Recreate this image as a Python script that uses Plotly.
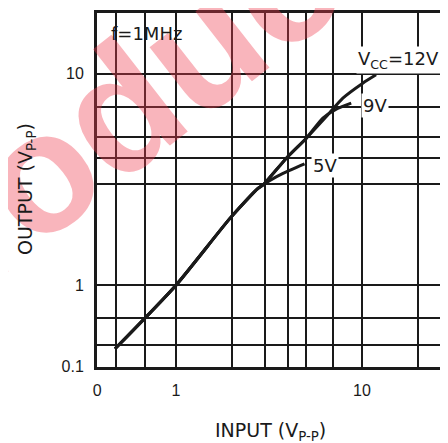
import plotly.graph_objects as go
import math

# ---- data ----
common_x = [0.47, 1.0, 1.95, 2.76]
common_y = [0.5, 1.0, 2.07, 2.87]

v12_x = [2.94, 3.92, 5.02, 6.43, 7.89, 10.1, 11.9]
v12_y = [2.98, 3.99, 4.96, 6.28, 7.67, 9.03, 9.89]

v9_x = [2.94, 3.92, 5.02, 6.16, 7.27, 8.75]
v9_y = [2.98, 3.99, 4.96, 6.17, 6.8, 7.26]

v5_x = [3.2, 3.76, 4.91]
v5_y = [3.13, 3.38, 3.75]

x_grid = [0.377, 0.476, 0.68, 1, 2, 3, 4, 5, 7, 10, 20]
x_text = ["0", "", "", "1", "", "", "", "", "", "10", ""]
y_grid = [0.411, 0.52, 0.7, 1, 3, 4, 5, 7, 10]
y_text = ["0.1", "", "", "1", "", "", "", "", "10"]

# page is rendered with the default 8px body margin
OFF = 8
W, H = 448 - OFF, 443 - OFF
L, R, T, B = 97, 448, 13, 367          # plot area in page pixels
xr = [math.log10(0.376), math.log10(29.0)]
yr = [math.log10(0.41), math.log10(19.4)]

FONT = "Liberation Sans, Arial, sans-serif"
WIDE = "DejaVu Sans, sans-serif"
INK = "#1a1a1a"

fig = go.Figure()
line = dict(color=INK, width=3)
fig.add_trace(go.Scatter(x=common_x + v12_x, y=common_y + v12_y, mode="lines",
                         line=line, line_shape="spline", line_smoothing=0.6,
                         name="12V", showlegend=False))
fig.add_trace(go.Scatter(x=common_x + v9_x, y=common_y + v9_y, mode="lines",
                         line=line, line_shape="spline", line_smoothing=0.6,
                         name="9V", showlegend=False))
fig.add_trace(go.Scatter(x=common_x + v5_x, y=common_y + v5_y, mode="lines",
                         line=line, line_shape="spline", line_smoothing=0.6,
                         name="5V", showlegend=False))

def px(xp):
    return (xp - L) / (R - L)

def py(yp):
    return (B - yp) / (B - T)

ann = []
# watermark of the scanned source
ann.append(dict(text="<b>Produc</b>", x=px(86), y=py(136), xanchor="center", yanchor="middle",
                textangle=-38, font=dict(family=FONT, size=170, color="rgba(240,60,80,0.38)")))
ann += [
    dict(text="f=1MHz", x=px(109), y=py(33), xanchor="left", font=dict(family=WIDE, size=18)),
    dict(text="V<sub>CC</sub>=12V", x=px(356), y=py(60), xanchor="left", bgcolor="white",
         font=dict(family=WIDE, size=18)),
    dict(text="9V", x=px(361), y=py(106), xanchor="left", bgcolor="white",
         font=dict(family=WIDE, size=18)),
    dict(text="5V", x=px(311), y=py(165), xanchor="left", bgcolor="white",
         font=dict(family=WIDE, size=18)),
    dict(text="INPUT (V<sub>P-P</sub>)", x=px(270), y=py(431), xanchor="center",
         font=dict(family=WIDE, size=19)),
    dict(text="OUTPUT (V<sub>P-P</sub>)", x=px(26), y=py(189), xanchor="center", textangle=-90,
         font=dict(family=WIDE, size=19)),
]
for a in ann:
    a.setdefault("xref", "paper")
    a.setdefault("yref", "paper")
    a.setdefault("showarrow", False)
    a.setdefault("yanchor", "middle")
    a["font"].setdefault("color", INK)

fig.update_layout(
    width=W, height=H,
    margin=dict(l=L - OFF, r=448 - R, t=T - OFF, b=443 - B, pad=0),
    paper_bgcolor="white", plot_bgcolor="white",
    font=dict(family=FONT, size=16, color=INK),
    annotations=ann,
    xaxis=dict(type="log", range=xr, tickmode="array", tickvals=x_grid, ticktext=x_text,
               showgrid=True, gridcolor=INK, gridwidth=1.6, showline=True, linecolor=INK,
               linewidth=3, mirror=True, ticks="", zeroline=False, ticklabelstandoff=7),
    yaxis=dict(type="log", range=yr, tickmode="array", tickvals=y_grid, ticktext=y_text,
               showgrid=True, gridcolor=INK, gridwidth=1.6, showline=True, linecolor=INK,
               linewidth=3, mirror=False, ticks="", zeroline=False, ticklabelstandoff=7),
)

fig.write_html("out.html")
